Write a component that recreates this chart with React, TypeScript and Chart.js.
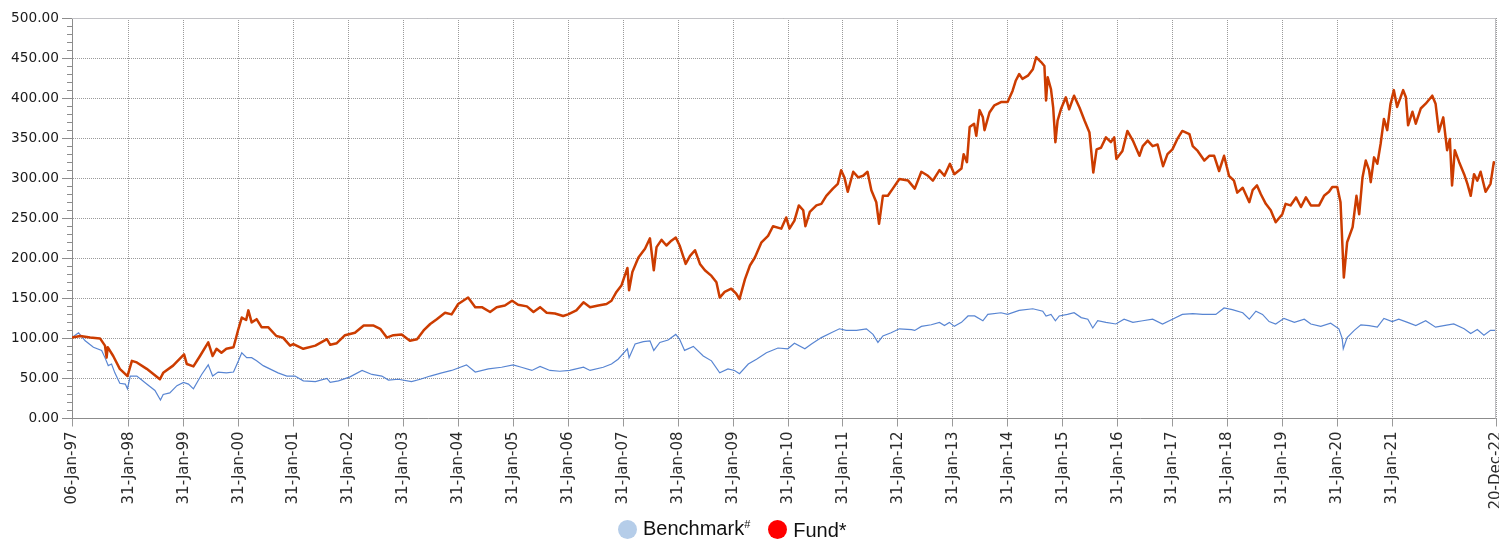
import React, { useEffect, useRef } from "react";
import { Chart, registerables } from "chart.js";

Chart.register(...registerables);

// ---- Data ----
const fundDates = [
  1997.05, 1997.2, 1997.38, 1997.56, 1997.65, 1997.68, 1997.7, 1997.8, 1997.92, 1998.06,
  1998.14, 1998.23, 1998.41, 1998.65, 1998.71, 1998.89, 1998.96, 1999.09, 1999.14, 1999.26,
  1999.38, 1999.53, 1999.61, 1999.68, 1999.77, 1999.86, 1999.99, 2000.08, 2000.14, 2000.22,
  2000.26, 2000.32, 2000.41, 2000.5, 2000.62, 2000.77, 2000.89, 2001.02, 2001.08, 2001.26,
  2001.48, 2001.69, 2001.75, 2001.87, 2002.02, 2002.2, 2002.36, 2002.54, 2002.66, 2002.78,
  2002.9, 2003.05, 2003.2, 2003.33, 2003.45, 2003.57, 2003.69, 2003.84, 2003.96, 2004.08,
  2004.26, 2004.39, 2004.51, 2004.66, 2004.78, 2004.93, 2005.06, 2005.17, 2005.33, 2005.45,
  2005.57, 2005.69, 2005.84, 2005.99, 2006.08, 2006.23, 2006.36, 2006.48, 2006.63, 2006.78,
  2006.87, 2006.96, 2007.05, 2007.16, 2007.19, 2007.25, 2007.36, 2007.48, 2007.57, 2007.64,
  2007.69, 2007.78, 2007.87, 2007.96, 2008.04, 2008.11, 2008.22, 2008.3, 2008.39, 2008.48,
  2008.57, 2008.69, 2008.78, 2008.84, 2008.93, 2009.05, 2009.14, 2009.2, 2009.3, 2009.39,
  2009.48, 2009.6, 2009.72, 2009.81, 2009.96, 2010.05, 2010.11, 2010.2, 2010.28, 2010.36,
  2010.4, 2010.48, 2010.6, 2010.69, 2010.78, 2010.9, 2010.99, 2011.05, 2011.11, 2011.17,
  2011.27, 2011.36, 2011.45, 2011.53, 2011.6, 2011.69, 2011.74, 2011.81, 2011.9, 2011.99,
  2012.11, 2012.27, 2012.39, 2012.51, 2012.63, 2012.72, 2012.84, 2012.93, 2013.03, 2013.11,
  2013.24, 2013.28, 2013.34, 2013.39, 2013.47, 2013.51, 2013.57, 2013.63, 2013.66, 2013.75,
  2013.84, 2013.96, 2014.08, 2014.17, 2014.23, 2014.29, 2014.35, 2014.45, 2014.54, 2014.6,
  2014.63, 2014.69, 2014.75, 2014.78, 2014.81, 2014.87, 2014.91, 2014.95, 2014.99, 2015.05,
  2015.14, 2015.2, 2015.29, 2015.39, 2015.48, 2015.57, 2015.64, 2015.7, 2015.78, 2015.87,
  2015.96, 2016.02, 2016.06, 2016.17, 2016.26, 2016.36, 2016.48, 2016.54, 2016.63, 2016.72,
  2016.81, 2016.91, 2016.99, 2017.08, 2017.17, 2017.26, 2017.39, 2017.45, 2017.54, 2017.66,
  2017.75, 2017.84, 2017.93, 2018.02, 2018.11, 2018.2, 2018.26, 2018.36, 2018.48, 2018.54,
  2018.62, 2018.69, 2018.78, 2018.87, 2018.96, 2019.08, 2019.14, 2019.23, 2019.33, 2019.42,
  2019.51, 2019.6, 2019.75, 2019.84, 2019.93, 2019.99, 2020.08, 2020.14, 2020.2, 2020.26,
  2020.36, 2020.43, 2020.48, 2020.54, 2020.6, 2020.66, 2020.69, 2020.75, 2020.81, 2020.87,
  2020.93, 2020.99, 2021.05, 2021.11, 2021.17, 2021.28, 2021.33, 2021.37, 2021.45, 2021.51,
  2021.6, 2021.69, 2021.81, 2021.87, 2021.93, 2022.01, 2022.08, 2022.13, 2022.17, 2022.22,
  2022.3, 2022.39, 2022.45, 2022.51, 2022.57, 2022.63, 2022.69, 2022.78, 2022.87, 2022.93,
  2022.97,
];
const fundValues = [
  101, 103, 101, 100, 91, 76, 89, 78, 62, 53,
  72, 70, 62, 49, 57, 66, 71, 80, 68, 65,
  78, 95, 78, 87, 82, 87, 89, 112, 126, 123,
  135, 120, 124, 114, 114, 103, 101, 91, 93, 87,
  91, 99, 92, 94, 104, 107, 116, 116, 112, 101,
  104, 105, 97, 99, 110, 118, 124, 132, 130, 143,
  151, 139, 139, 133, 139, 141, 147, 142, 140, 133,
  139, 132, 131, 128, 130, 135, 145, 139, 141, 143,
  147, 158, 166, 188, 160, 183, 201, 212, 225, 185,
  214, 223, 216, 222, 226, 216, 193, 203, 210, 193,
  185, 178, 170, 151, 158, 162, 156, 149, 174, 191,
  201, 220, 228, 240, 237, 251, 237, 247, 266, 260,
  240, 258, 266, 268, 278, 287, 293, 310, 301, 283,
  308, 301, 303, 308, 285, 270, 243, 278, 278, 287,
  299, 297, 287, 308, 303, 297, 310, 303, 318, 305,
  312, 330, 320, 364, 368, 353, 385, 376, 360, 382,
  391, 395, 395, 409, 422, 430, 424, 428, 436, 451,
  449, 445, 440, 397, 426, 411, 388, 345, 372, 386,
  401, 386, 403, 388, 372, 357, 307, 336, 338, 351,
  345, 351, 324, 334, 359, 347, 328, 340, 347, 340,
  342, 315, 330, 336, 349, 359, 355, 340, 334, 322,
  328, 328, 309, 328, 303, 297, 282, 288, 270, 285,
  291, 280, 268, 260, 245, 255, 268, 266, 276, 264,
  276, 266, 266, 278, 283, 289, 289, 270, 176, 220,
  239, 278, 255, 301, 322, 310, 295, 326, 318, 343,
  374, 360, 393, 410, 389, 410, 401, 366, 383, 368,
  387, 393, 403, 393, 358, 376, 335, 349, 291, 335,
  320, 305, 293, 278, 305, 297, 308, 283, 293, 320,
  318,
];

const benchDates = [
  1997.05, 1997.17, 1997.29, 1997.44, 1997.59, 1997.65, 1997.71, 1997.77, 1997.83, 1997.92,
  1998.02, 1998.06, 1998.11, 1998.23, 1998.41, 1998.56, 1998.66, 1998.71, 1998.83, 1998.96,
  1999.08, 1999.17, 1999.26, 1999.41, 1999.53, 1999.61, 1999.71, 1999.86, 1999.99, 2000.08,
  2000.14, 2000.23, 2000.32, 2000.41, 2000.53, 2000.65, 2000.8, 2000.96, 2001.11, 2001.26,
  2001.48, 2001.69, 2001.75, 2001.9, 2002.11, 2002.33, 2002.51, 2002.69, 2002.81, 2002.99,
  2003.23, 2003.39, 2003.57, 2003.78, 2003.96, 2004.23, 2004.39, 2004.63, 2004.87, 2005.08,
  2005.23, 2005.42, 2005.57, 2005.75, 2005.93, 2006.11, 2006.36, 2006.48, 2006.72, 2006.87,
  2006.99, 2007.16, 2007.19, 2007.3, 2007.45, 2007.57, 2007.64, 2007.75, 2007.9, 2008.04,
  2008.11, 2008.2, 2008.36, 2008.54, 2008.69, 2008.84, 2008.99, 2009.11, 2009.2, 2009.36,
  2009.51, 2009.69, 2009.9, 2010.08, 2010.2, 2010.39, 2010.51, 2010.69, 2010.87, 2011.02,
  2011.14, 2011.33, 2011.51, 2011.63, 2011.72, 2011.81, 2011.96, 2012.11, 2012.33, 2012.39,
  2012.51, 2012.69, 2012.84, 2012.93, 2013.02, 2013.11, 2013.24, 2013.36, 2013.48, 2013.63,
  2013.72, 2013.96, 2014.08, 2014.29, 2014.54, 2014.72, 2014.78, 2014.87, 2014.95, 2015.02,
  2015.17, 2015.29, 2015.42, 2015.54, 2015.63, 2015.72, 2015.87, 2016.05, 2016.2, 2016.36,
  2016.54, 2016.72, 2016.9, 2017.08, 2017.26, 2017.45, 2017.63, 2017.87, 2018.02, 2018.17,
  2018.36, 2018.48, 2018.6, 2018.72, 2018.84, 2018.96, 2019.11, 2019.3, 2019.48, 2019.6,
  2019.78, 2019.96, 2020.11, 2020.17, 2020.19, 2020.26, 2020.39, 2020.51, 2020.66, 2020.81,
  2020.93, 2021.08, 2021.2, 2021.36, 2021.51, 2021.69, 2021.87, 2022.02, 2022.2, 2022.39,
  2022.51, 2022.63, 2022.75, 2022.87, 2022.97,
];
const benchValues = [
  101, 107, 97, 89, 85, 76, 66, 68, 57, 44,
  43, 37, 53, 53, 43, 35, 23, 30, 32, 41,
  45, 43, 37, 55, 67, 53, 58, 57, 58, 72,
  82, 76, 76, 72, 66, 62, 57, 53, 53, 47,
  46, 50, 45, 47, 52, 60, 55, 53, 48, 49,
  46, 49, 53, 57, 60, 67, 58, 62, 64, 67,
  64, 60, 65, 60, 59, 60, 64, 60, 64, 68,
  74, 87, 76, 93, 96, 97, 85, 95, 98, 105,
  99, 85, 90, 78, 72, 57, 62, 60, 56, 68,
  74, 82, 88, 87, 94, 87, 93, 101, 107, 112,
  110, 110, 112, 105, 95, 103, 107, 112, 111, 110,
  115, 117, 120, 116, 120, 115, 120, 128, 128, 122,
  130, 132, 130, 135, 137, 134, 128, 130, 122, 128,
  130, 132, 126, 124, 113, 122, 120, 118, 124, 120,
  122, 124, 118, 124, 130, 131, 130, 130, 138, 136,
  132, 124, 134, 130, 121, 118, 125, 120, 124, 118,
  115, 119, 112, 100, 87, 101, 110, 117, 116, 114,
  125, 121, 124, 120, 116, 122, 114, 116, 118, 112,
  106, 111, 104, 110, 110,
];

const xTickValues = [
  1997.05, 1998.083, 1999.083, 2000.083, 2001.083, 2002.083, 2003.083, 2004.083, 2005.083,
  2006.083, 2007.083, 2008.083, 2009.083, 2010.083, 2011.083, 2012.083, 2013.083, 2014.083,
  2015.083, 2016.083, 2017.083, 2018.083, 2019.083, 2020.083, 2021.083, 2022.97,
];
const xTickLabels = [
  "06-Jan-97", "31-Jan-98", "31-Jan-99", "31-Jan-00", "31-Jan-01", "31-Jan-02", "31-Jan-03",
  "31-Jan-04", "31-Jan-05", "31-Jan-06", "31-Jan-07", "31-Jan-08", "31-Jan-09", "31-Jan-10",
  "31-Jan-11", "31-Jan-12", "31-Jan-13", "31-Jan-14", "31-Jan-15", "31-Jan-16", "31-Jan-17",
  "31-Jan-18", "31-Jan-19", "31-Jan-20", "31-Jan-21", "20-Dec-22",
];
const yMin = 0;
const yMax = 500;
const yStep = 50;
const yMinorStep = 10;

const seriesNames = ["Fund*", "Benchmark#"];

const toPoints = (xs: number[], ys: number[]) => xs.map((x, i) => ({ x, y: ys[i] }));

const framePlugin = {
  id: "frameAndMinorTicks",
  afterDraw(chart: any) {
    const { ctx, chartArea: a, scales } = chart;
    ctx.save();
    // top and right frame
    ctx.strokeStyle = "#c2c2c6";
    ctx.lineWidth = 1;
    ctx.beginPath();
    const top = Math.round(a.top) + 0.5;
    const right = Math.round(a.right) - 0.5;
    ctx.moveTo(a.left, top);
    ctx.lineTo(right, top);
    ctx.lineTo(right, a.bottom);
    ctx.stroke();
    // minor ticks on y axis
    ctx.strokeStyle = "#8c8c8c";
    ctx.beginPath();
    const ys = scales.y;
    for (let v = yMin; v <= yMax; v += yMinorStep) {
      if (v % yStep === 0) continue;
      const py = Math.round(ys.getPixelForValue(v)) + 0.5;
      ctx.moveTo(a.left - 5, py);
      ctx.lineTo(a.left, py);
    }
    ctx.stroke();
    ctx.restore();
  },
};

export default function App() {
  const canvasRef = useRef<HTMLCanvasElement | null>(null);

  useEffect(() => {
    if (!canvasRef.current) return;
    const chart = new Chart(canvasRef.current, {
      type: "line",
      data: {
        datasets: [
          {
            label: seriesNames[0],
            data: toPoints(fundDates, fundValues),
            borderColor: "#cc3c00",
            borderWidth: 2.5,
            pointRadius: 0,
            tension: 0,
            borderJoinStyle: "round",
            fill: false,
          },
          {
            label: seriesNames[1],
            data: toPoints(benchDates, benchValues),
            borderColor: "rgba(70,120,205,0.9)",
            borderWidth: 1.2,
            pointRadius: 0,
            tension: 0,
            fill: false,
          },
        ],
      },
      options: {
        animation: false,
        responsive: false,
        maintainAspectRatio: false,
        layout: { padding: { top: 18, right: 3, bottom: 33.5, left: 0 } },
        plugins: {
          legend: { display: false },
          tooltip: { enabled: false },
        },
        scales: {
          x: {
            type: "linear",
            min: xTickValues[0],
            max: xTickValues[xTickValues.length - 1],
            afterBuildTicks: (axis: any) => {
              axis.ticks = xTickValues.map((v) => ({ value: v }));
            },
            afterFit: (axis: any) => {
              axis.paddingLeft = 0;
              axis.paddingRight = 0;
              axis.height = 90;
            },
            ticks: {
              autoSkip: false,
              minRotation: 90,
              maxRotation: 90,
              padding: 5,
              color: "#2a2a2a",
              font: { family: "'DejaVu Sans', Verdana, sans-serif", size: 15 },
              callback: (_v: any, i: number) => xTickLabels[i],
            },
            grid: {
              color: "#9a9a9a",
              lineWidth: 1,
              tickLength: 8,
              tickColor: "#9a9a9a",
            },
            border: { display: true, color: "#8c8c8c", dash: [1, 1] },
          },
          y: {
            min: yMin,
            max: yMax,
            afterFit: (axis: any) => {
              axis.width = 72;
              axis.paddingTop = 0;
              axis.paddingBottom = 0;
            },
            ticks: {
              stepSize: yStep,
              padding: 3,
              color: "#1a1a1a",
              font: { family: "'DejaVu Sans', Verdana, sans-serif", size: 13.7 },
              callback: (v: any) => Number(v).toFixed(2),
            },
            grid: {
              color: "#9a9a9a",
              lineWidth: 1,
              tickLength: 10,
              tickColor: "#8c8c8c",
            },
            border: { display: true, color: "#8c8c8c", dash: [1, 1] },
          },
        },
      } as any,
      plugins: [framePlugin],
    });
    return () => chart.destroy();
  }, []);

  const dot = (bg: string) => ({
    display: "inline-block",
    width: 19,
    height: 19,
    borderRadius: "50%",
    background: bg,
    marginRight: 6,
  });

  return (
    <div style={{ position: "absolute", left: 0, top: 0, width: 1499, height: 542 }}>
      <canvas ref={canvasRef} width={1499} height={542} style={{ display: "block" }} />
      <div
        style={{
          position: "absolute",
          left: 618,
          top: 518,
          display: "flex",
          alignItems: "center",
          fontFamily: "'Liberation Sans', Arial, sans-serif",
          fontSize: 20,
          color: "#111",
          lineHeight: "20px",
          whiteSpace: "nowrap",
        }}
      >
        <span style={dot("#b5cde9")} />
        <span>
          Benchmark
          <span style={{ fontSize: 11, position: "relative", top: -7 }}>#</span>
        </span>
        <span style={{ ...dot("#ff0000"), marginLeft: 18 }} />
        <span>Fund*</span>
      </div>
    </div>
  );
}
